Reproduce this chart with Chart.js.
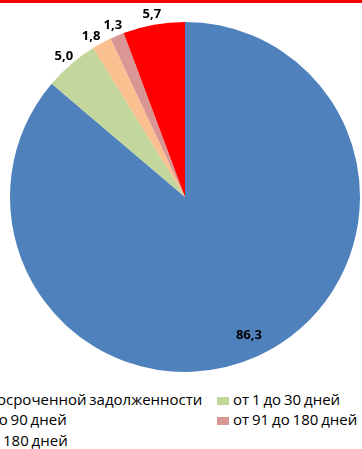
<!DOCTYPE html>
<html>
<head>
<meta charset="utf-8">
<script src="https://cdn.jsdelivr.net/npm/chart.js@4/dist/chart.umd.min.js"></script>
<style>
  html, body { margin: 0; padding: 0; background: #fff; }
  body { width: 362px; height: 449px; overflow: hidden; position: relative; }
  #bar { position: absolute; left: 0; top: 0; width: 362px; height: 3px; background: #ff0000; }
  #wrap { position: absolute; left: 0; top: 0; width: 362px; height: 385px; }
  .lg { position: absolute; font-family: "Open Sans", sans-serif; font-size: 15px; color: #000; white-space: nowrap; line-height: 16px; word-spacing: -1px; }
  .sw { position: absolute; width: 12px; height: 8px; }
</style>
</head>
<body>
<div id="bar"></div>
<div id="wrap"><canvas id="c" width="362" height="385"></canvas></div>
<div id="legend"></div>
<script>
const categories = [
  "без просроченной задолженности",
  "от 1 до 30 дней",
  "от 31 до 90 дней",
  "от 91 до 180 дней",
  "свыше 180 дней"
];
const values = [86.3, 5.0, 1.8, 1.3, 5.7];
const colors = ["#4F81BD", "#C3D69B", "#FAC090", "#D99694", "#FF0000"];

const labelPlugin = {
  id: 'pieLabels',
  afterDatasetsDraw(chart) {
    const ctx = chart.ctx;
    const meta = chart.getDatasetMeta(0);
    ctx.save();
    ctx.font = 'bold 13px "Open Sans", sans-serif';
    ctx.fillStyle = '#000';
    ctx.textAlign = 'center';
    ctx.textBaseline = 'middle';
    const arcs = meta.data.map(arc => arc.getProps(['x', 'y', 'startAngle', 'endAngle', 'outerRadius'], true));
    const ang = arcs.map(p => (p.startAngle + p.endAngle) / 2);
    // spread crowded outside labels apart (min angular gap)
    const minGap = 7.5 * Math.PI / 180;
    for (let i = ang.length - 2; i >= 1; i--) {
      if (ang[i + 1] - ang[i] < minGap) ang[i] = ang[i + 1] - minGap;
    }
    arcs.forEach((p, i) => {
      const r = i === 0 ? p.outerRadius * 0.87 : p.outerRadius + 11;
      const txt = values[i].toFixed(1).replace('.', ',');
      ctx.fillText(txt, p.x + Math.cos(ang[i]) * r, p.y + Math.sin(ang[i]) * r);
    });
    ctx.restore();
  }
};

new Chart(document.getElementById('c'), {
  type: 'pie',
  data: {
    labels: categories,
    datasets: [{ data: values, backgroundColor: colors, borderWidth: 0 }]
  },
  options: {
    responsive: false,
    animation: false,
    layout: { padding: { left: 10, right: 2, top: 22, bottom: 13 } },
    plugins: { legend: { display: false }, tooltip: { enabled: false } }
  },
  plugins: [labelPlugin]
});

// HTML legend in two columns, built from the arrays
const legend = document.getElementById('legend');
const rowTop = [391, 411, 432];
const items = [];
categories.forEach((name, i) => {
  const col = i % 2, row = Math.floor(i / 2);
  const sw = document.createElement('div');
  sw.className = 'sw';
  sw.style.background = colors[i];
  sw.style.top = (rowTop[row] + 6) + 'px';
  legend.appendChild(sw);
  const t = document.createElement('div');
  t.className = 'lg';
  t.textContent = name;
  t.style.top = rowTop[row] + 'px';
  legend.appendChild(t);
  items.push({ col, sw, t });
});
// first column: its first entry ends near x=200 (cropped at the left edge)
const firstW = items[0].t.getBoundingClientRect().width;
const colText = [Math.round(200 - firstW) + 2, 233];
items.forEach(it => {
  it.t.style.left = colText[it.col] + 'px';
  it.sw.style.left = (colText[it.col] - 16) + 'px';
});
</script>
</body>
</html>
